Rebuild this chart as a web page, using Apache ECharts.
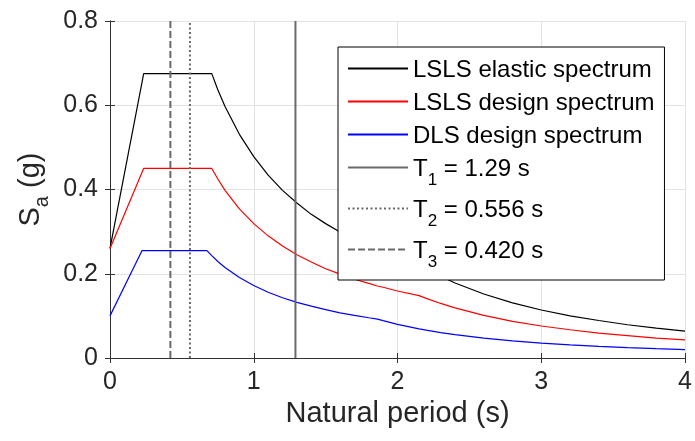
<!DOCTYPE html>
<html>
<head>
<meta charset="utf-8">
<script src="https://cdn.jsdelivr.net/npm/echarts@6/dist/echarts.min.js"></script>
<style>html,body{margin:0;padding:0;background:#fff;}#c{width:695px;height:441px;}</style>
</head>
<body>
<div id="c"></div>
<script>
// Natural periods (s) at which the spectra were read
const periods = [0, 0.223, 0.234, 0.674, 0.708, 0.75, 0.8, 0.9, 1.0, 1.1, 1.2, 1.3, 1.4, 1.5, 1.6, 1.7, 1.8, 1.86, 1.9, 2.0, 2.15, 2.2, 2.3, 2.4, 2.6, 2.8, 3.0, 3.2, 3.4, 3.6, 3.8, 4.0];
const lslsElastic = [0.26, 0.655, 0.675, 0.675, 0.675, 0.637, 0.597, 0.531, 0.478, 0.434, 0.398, 0.368, 0.341, 0.319, 0.299, 0.281, 0.266, 0.257, 0.252, 0.239, 0.222, 0.212, 0.194, 0.178, 0.152, 0.131, 0.114, 0.100, 0.089, 0.079, 0.071, 0.064];
const lslsDesign = [0.26, 0.441, 0.45, 0.45, 0.45, 0.425, 0.398, 0.354, 0.319, 0.290, 0.266, 0.245, 0.228, 0.212, 0.199, 0.187, 0.177, 0.171, 0.168, 0.159, 0.148, 0.1415, 0.1295, 0.119, 0.101, 0.087, 0.076, 0.067, 0.059, 0.053, 0.047, 0.043];
const dlsDesign = [0.10, 0.255, 0.255, 0.255, 0.243, 0.229, 0.215, 0.191, 0.172, 0.156, 0.143, 0.132, 0.123, 0.115, 0.107, 0.101, 0.0955, 0.0924, 0.0886, 0.0799, 0.0692, 0.0661, 0.0604, 0.0555, 0.0473, 0.0408, 0.0355, 0.0312, 0.0277, 0.0247, 0.0221, 0.0200];
// Modal periods marked by vertical lines
const modeLabels = ['1', '2', '3'];
const modePeriods = [1.29, 0.556, 0.420];
const modeText = ['1.29', '0.556', '0.420'];
const yRange = [0, 0.8];

const FONT = 'Liberation Sans, Arial, Helvetica, sans-serif';
const axisColor = '#333';

const curveNames = ['LSLS elastic spectrum', 'LSLS design spectrum', 'DLS design spectrum'];
const curveColors = ['#000000', '#ff0000', '#0000ff'];
const curveData = [lslsElastic, lslsDesign, dlsDesign];
const modeStyles = ['solid', [2, 2.5], [7, 3]];

const series = [];
curveData.forEach((vals, k) => {
  series.push({
    name: curveNames[k], type: 'line', symbol: 'none', animation: false,
    data: periods.map((t, i) => [t, vals[i]]),
    lineStyle: { color: curveColors[k], width: 1.2 },
    itemStyle: { color: curveColors[k] }, z: 3
  });
});
modePeriods.forEach((t, k) => {
  series.push({
    name: 'T' + modeLabels[k] + ' = ' + modeText[k] + ' s', type: 'line', symbol: 'none', animation: false,
    data: yRange.map(v => [t, v]),
    lineStyle: { color: '#6a6a6a', width: 2, type: modeStyles[k] },
    itemStyle: { color: '#6a6a6a' }, z: 4
  });
});

function axisCommon(showLabel) {
  return {
    axisLine: { show: true, lineStyle: { color: axisColor, width: 1 } },
    axisTick: { show: true, inside: true, length: 5, lineStyle: { color: axisColor } },
    axisLabel: { show: showLabel, color: '#262626', fontSize: 25, fontFamily: FONT, margin: 12 },
  };
}

const chart = echarts.init(document.getElementById('c'), null, { renderer: 'canvas' });
chart.setOption({
  animation: false,
  backgroundColor: '#fff',
  grid: { left: 110, right: 5, top: 21, bottom: 83, containLabel: false },
  xAxis: [
    Object.assign({
      type: 'value', min: 0, max: 4, interval: 1, position: 'bottom',
      name: 'Natural period (s)', nameLocation: 'middle', nameGap: 35,
      nameTextStyle: { color: '#262626', fontSize: 29, fontFamily: FONT },
      splitLine: { show: true, lineStyle: { color: '#e3e3e3', width: 1 } }
    }, axisCommon(true)),
    Object.assign({
      type: 'value', min: 0, max: 4, interval: 1, position: 'top',
      splitLine: { show: false }
    }, axisCommon(false))
  ],
  yAxis: [
    Object.assign({
      type: 'value', min: 0, max: 0.8, interval: 0.2, position: 'left',
      name: '{n|S}{s|a}{n| (g)}', nameLocation: 'middle', nameGap: 64,
      nameTextStyle: {
        color: '#262626', fontFamily: FONT,
        rich: {
          n: { fontSize: 29, lineHeight: 30, verticalAlign: 'top', fontFamily: FONT, color: '#262626' },
          s: { fontSize: 20, lineHeight: 20, padding: [16, 0, 0, 0], verticalAlign: 'top', fontFamily: FONT, color: '#262626' }
        }
      },
      splitLine: { show: true, lineStyle: { color: '#e3e3e3', width: 1 } }
    }, axisCommon(true)),
    Object.assign({
      type: 'value', min: 0, max: 0.8, interval: 0.2, position: 'right',
      splitLine: { show: false }
    }, axisCommon(false))
  ],
  legend: {
    orient: 'vertical', left: 338, top: 47,
    itemWidth: 60, itemHeight: 14, itemGap: 9,
    padding: [11, 10, 9, 9],
    backgroundColor: '#fff', borderColor: '#000', borderWidth: 1, borderRadius: 0,
    selectedMode: false,
    itemStyle: { opacity: 0, borderWidth: 0 },
    data: series.map(s => s.name),
    formatter: function (name) {
      const m = name.match(/^T(\d)(.*)$/);
      if (m) return '{n|T}{s|' + m[1] + '}{n|' + m[2] + '}';
      return '{n|' + name + '}';
    },
    textStyle: {
      width: 240, color: '#000', fontFamily: FONT,
      rich: {
        n: { fontSize: 24, lineHeight: 21, verticalAlign: 'top', fontFamily: FONT, color: '#000' },
        s: { fontSize: 17, lineHeight: 17, padding: [15, 0, 0, 0], verticalAlign: 'top', fontFamily: FONT, color: '#000' }
      }
    }
  },
  series: series
});
</script>
</body>
</html>
